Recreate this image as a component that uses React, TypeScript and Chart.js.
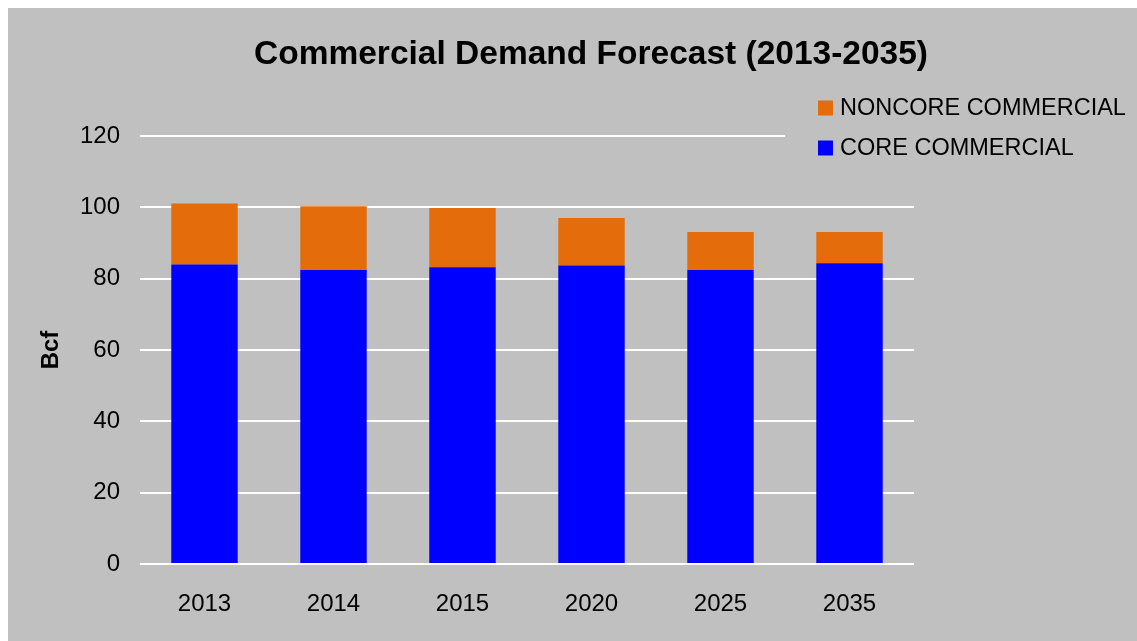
import React, { useEffect, useRef } from "react";
import { Chart, registerables } from "chart.js";

Chart.register(...registerables);

// ---- data ----
const categories = ["2013", "2014", "2015", "2020", "2025", "2035"];
const coreCommercial = [84.0, 82.4, 83.2, 83.7, 82.4, 84.3];
const noncoreCommercial = [17.1, 17.9, 16.6, 13.3, 10.7, 8.8];
const yTicks = [0, 20, 40, 60, 80, 100, 120];
const seriesNames = ["CORE COMMERCIAL", "NONCORE COMMERCIAL"];
const titleText = "Commercial Demand Forecast (2013-2035)";
const yAxisTitle = "Bcf";

// ---- styles ----
const seriesColors = ["#0000FF", "#E46C0A"];
const BG = "#C0C0C0";
const FONT = "Arial, 'Liberation Sans', sans-serif";
const W = 1129;
const H = 633;

const decorPlugin = {
  id: "decor",
  beforeDatasetsDraw(chart: any) {
    const ctx = chart.ctx;
    ctx.save();
    // legend panel (covers the grid line beneath it, as in the original)
    ctx.fillStyle = BG;
    ctx.fillRect(777, 80, W - 777, 77);
    ctx.restore();
  },
  afterDraw(chart: any) {
    const ctx = chart.ctx;
    ctx.save();
    ctx.fillStyle = "#000";
    ctx.font = `bold 33.5px ${FONT}`;
    ctx.textAlign = "center";
    ctx.textBaseline = "alphabetic";
    ctx.fillText(titleText, 583, 56);

    ctx.font = `23.5px ${FONT}`;
    ctx.textAlign = "left";
    ctx.textBaseline = "middle";
    const ds = [...chart.data.datasets].reverse();
    ds.forEach((d: any, i: number) => {
      const cy = 100 + i * 40;
      ctx.fillStyle = d.backgroundColor;
      ctx.fillRect(810, cy - 7.5, 15, 15);
      ctx.fillStyle = "#000";
      ctx.fillText(d.label, 832, cy + 1);
    });
    ctx.restore();
  },
};

export default function App() {
  const ref = useRef<HTMLCanvasElement | null>(null);

  useEffect(() => {
    if (!ref.current) return;
    const chart = new Chart(ref.current, {
      type: "bar",
      data: {
        labels: categories,
        datasets: [
          {
            label: seriesNames[0],
            data: coreCommercial,
            backgroundColor: seriesColors[0],
            borderWidth: 0,
            barPercentage: 0.515,
            categoryPercentage: 1,
          },
          {
            label: seriesNames[1],
            data: noncoreCommercial,
            backgroundColor: seriesColors[1],
            borderWidth: 0,
            barPercentage: 0.515,
            categoryPercentage: 1,
          },
        ],
      },
      options: {
        responsive: false,
        animation: false,
        devicePixelRatio: 1,
        layout: { padding: { top: 128, right: 223, bottom: 0, left: 0 } },
        plugins: {
          legend: { display: false },
          title: { display: false },
          tooltip: { enabled: false },
        },
        scales: {
          x: {
            stacked: true,
            grid: { display: false, drawTicks: false },
            border: { display: false },
            ticks: {
              color: "#000",
              font: { family: FONT, size: 24 },
              padding: 26,
              maxRotation: 0,
            },
            afterFit(s: any) {
              s.height = 77;
            },
          },
          y: {
            stacked: true,
            min: 0,
            max: 120,
            grid: { color: "#FFFFFF", lineWidth: 2, drawTicks: false },
            border: { display: false },
            ticks: {
              color: "#000",
              font: { family: FONT, size: 24 },
              padding: 20,
            },
            afterBuildTicks(s: any) {
              s.ticks = yTicks.map((v) => ({ value: v }));
            },
            title: {
              display: true,
              text: yAxisTitle,
              color: "#000",
              font: { family: FONT, size: 24, weight: "bold" },
              padding: { top: 29, bottom: 0 },
            },
            afterFit(s: any) {
              s.width = 132;
            },
          },
        },
      },
      plugins: [decorPlugin],
    });
    return () => chart.destroy();
  }, []);

  return (
    <div
      style={{
        position: "fixed",
        left: 8,
        top: 8,
        width: W,
        height: H,
        background: BG,
      }}
    >
      <canvas ref={ref} width={W} height={H} style={{ display: "block" }} />
    </div>
  );
}
